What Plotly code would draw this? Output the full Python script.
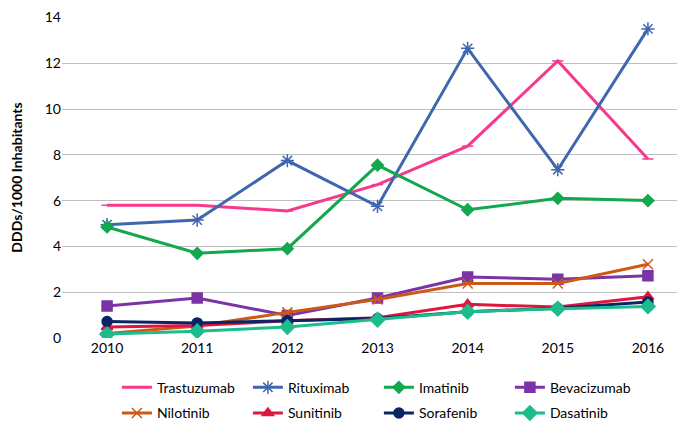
import plotly.graph_objects as go

years = ['2010', '2011', '2012', '2013', '2014', '2015', '2016']

trastuzumab = [5.8, 5.8, 5.55, 6.7, 8.38, 12.1, 7.82]
rituximab = [4.95, 5.15, 7.75, 5.75, 12.65, 7.35, 13.5]
imatinib = [4.85, 3.7, 3.9, 7.55, 5.6, 6.1, 6.0]
bevacizumab = [1.4, 1.75, 0.98, 1.75, 2.66, 2.57, 2.72]
nilotinib = [0.2, 0.52, 1.12, 1.68, 2.38, 2.38, 3.22]
sunitinib = [0.48, 0.55, 0.75, 0.88, 1.47, 1.35, 1.8]
sorafenib = [0.72, 0.66, 0.75, 0.85, 1.15, 1.3, 1.57]
dasatinib = [0.17, 0.3, 0.48, 0.8, 1.15, 1.28, 1.38]

series = [
    ('Trastuzumab', trastuzumab, '#F7398E', 'line-ew-open', 8, 'legend'),
    ('Rituximab', rituximab, '#3F66AE', 'asterisk-open', 11, 'legend'),
    ('Imatinib', imatinib, '#12A84E', 'diamond', 9, 'legend'),
    ('Bevacizumab', bevacizumab, '#7B33A6', 'square', 10, 'legend'),
    ('Nilotinib', nilotinib, '#CC5A16', 'x-thin-open', 10, 'legend2'),
    ('Sunitinib', sunitinib, '#E0163F', 'triangle-up', 10, 'legend2'),
    ('Sorafenib', sorafenib, '#0A2466', 'circle', 10, 'legend2'),
    ('Dasatinib', dasatinib, '#1DBC8C', 'diamond', 11, 'legend2'),
]

fig = go.Figure()
for name, vals, color, sym, size, leg in series:
    fig.add_trace(go.Scatter(
        x=years, y=vals, name=name, mode='lines+markers',
        line=dict(color=color, width=3),
        marker=dict(symbol=sym, size=size, color=color,
                    line=dict(color=color, width=1.5)),
        legend=leg,
    ))

legend_style = dict(orientation='h', xanchor='left', x=0.087, yanchor='top',
                    font=dict(size=14, color='#000000', family='Lato'),
                    entrywidth=86, bgcolor='rgba(0,0,0,0)', itemwidth=30,
                    tracegroupgap=0)

fig.update_layout(
    width=685, height=422,
    margin=dict(l=54, r=0, t=4, b=82),
    paper_bgcolor='white', plot_bgcolor='white',
    font=dict(family='Lato', size=14, color='#000000'),
    showlegend=True,
    legend=dict(legend_style, y=-0.105),
    legend2=dict(legend_style, y=-0.185),
    xaxis=dict(type='category', range=[-0.5, 6.5], showgrid=False,
               showline=False, ticks='', tickfont=dict(size=14)),
    yaxis=dict(range=[0, 14.02], tickvals=[0, 2, 4, 6, 8, 10, 12, 14],
               showgrid=True, gridcolor='#BFBFBF', ticklabeloverflow='allow',
               gridwidth=1, zeroline=False, ticks='', tickfont=dict(size=14),
               title=dict(text='<b>DDDs/1000 Inhabitants</b>', font=dict(size=14),
                          standoff=18)),
)

fig.write_html("out.html")
